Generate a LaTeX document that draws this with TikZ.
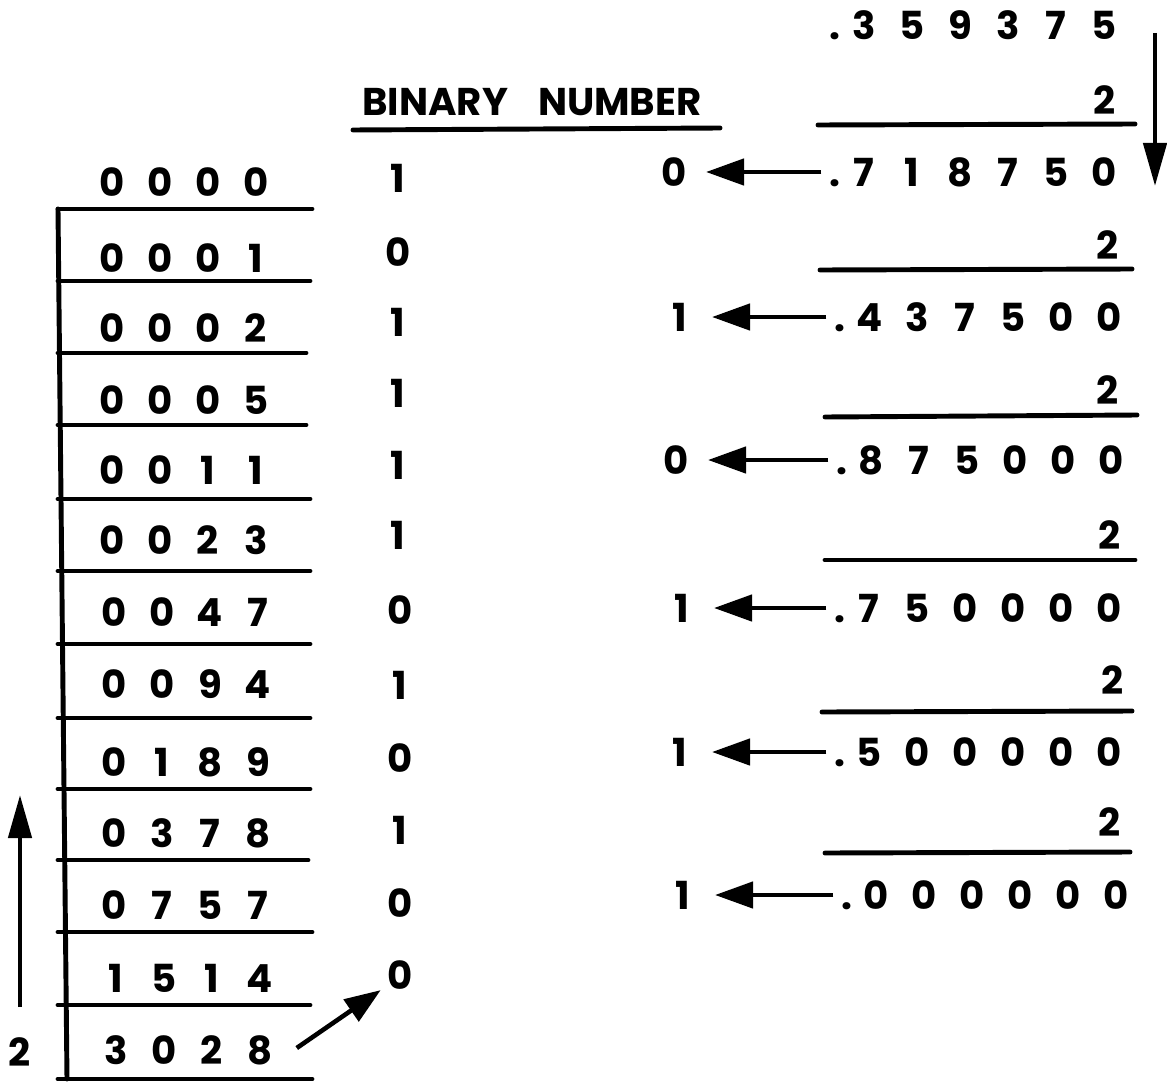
\documentclass[tikz,border=0pt]{standalone}
\usepackage{fontspec}
\setmainfont{Poppins}
\usetikzlibrary{arrows.meta,calc}
\newcommand\Dg[1]{\makebox[4.8mm]{#1}}
\newcommand\Dt{\makebox[2.6mm][r]{.}}
\newcommand\Row[4]{\Dg{#1}\Dg{#2}\Dg{#3}\Dg{#4}}
\newcommand\Six[6]{\Dt\Dg{#1}\Dg{#2}\Dg{#3}\Dg{#4}\Dg{#5}\Dg{#6}}
\begin{document}
\begin{tikzpicture}[x=0.01cm,y=-0.01cm,
  txt/.style={inner sep=0pt,font=\fontsize{11}{13}\selectfont\bfseries},
  rule/.style={line width=1.4pt,line cap=round},
  larr/.style={line width=1.3pt,-{Triangle[length=3.8mm,width=2.6mm]}},
  varr/.style={line width=1.3pt,-{Triangle[length=4.3mm,width=2.3mm]}},
  darr/.style={line width=1.3pt,-{Triangle[length=3.6mm,width=2.6mm]}},
]
\useasboundingbox (0,0) rectangle (1167,1082);

% ---- left table ----
\node[txt] (r1)  at (184,182)  {\Row0000};
\node[txt] (r2)  at (184,258)  {\Row0001};
\node[txt] (r3)  at (184,328)  {\Row0002};
\node[txt] (r4)  at (184,400)  {\Row0005};
\node[txt] (r5)  at (184,470)  {\Row0011};
\node[txt] (r6)  at (184,540)  {\Row0023};
\node[txt] (r7)  at (186,612)  {\Row0047};
\node[txt] (r8)  at (186,684)  {\Row0094};
\node[txt] (r9)  at (186,762)  {\Row0189};
\node[txt] (r10) at (186,833)  {\Row0378};
\node[txt] (r11) at (186,905)  {\Row0757};
\node[txt] (r12) at (188,978)  {\Row1514};
\node[txt] (r13) at (188,1050) {\Row3028};

\draw[rule] (58,209) -- (67,1079);
\foreach \y/\r in {209/312,281/310,353/306,425/306,499/310,571/310,644/310,718/310,789/310,860/308,932/312,1005/310,1079/312}
  \draw[rule] (58,\y) -- (\r,\y);

% ---- binary column ----
\node[txt] (hdr) at (532,102) {BINARY\hspace{3mm}NUMBER};
\draw[rule] (353,130) -- (720,128);
\node[txt] (b1)  at (398,178) {1};
\node[txt] (b2)  at (398,252) {0};
\node[txt] (b3)  at (398,322) {1};
\node[txt] (b4)  at (398,393) {1};
\node[txt] (b5)  at (398,465) {1};
\node[txt] (b6)  at (398,535) {1};
\node[txt] (b7)  at (400,610) {0};
\node[txt] (b8)  at (400,685) {1};
\node[txt] (b9)  at (400,758) {0};
\node[txt] (b10) at (400,830) {1};
\node[txt] (b11) at (400,903) {0};
\node[txt] (b12) at (400,975) {0};

% ---- left arrow and multiplier ----
\node[txt] (two) at (20,1052) {2};
\coordinate (la0) at (20,1007);
\coordinate (la1) at (20,795);
\draw[varr] (la0) -- (la1);
\draw[darr] ($(r13.east)+(12,-2)$) -- ($(b12.south west)+(-6,0)$);

% ---- right side: fraction ----
\node[txt,anchor=east] (m0) at (1129,25)  {\Six359375};
\node[txt] (k1) at (1105,100) {2};
\draw[rule] (818,125) -- (1135,124);
\node[txt,anchor=east] (m1) at (1129,172) {\Six718750};
\node[txt] (k2) at (1108,245) {2};
\draw[rule] (820,270) -- (1132,269);
\node[txt,anchor=east] (m2) at (1134,317) {\Six437500};
\node[txt] (k3) at (1108,390) {2};
\draw[rule] (825,417) -- (1137,415);
\node[txt,anchor=east] (m3) at (1136,460) {\Six875000};
\node[txt] (k4) at (1110,535) {2};
\draw[rule] (825,560) -- (1135,560);
\node[txt,anchor=east] (m4) at (1134,608) {\Six750000};
\node[txt] (k5) at (1113,680) {2};
\draw[rule] (822,712) -- (1132,711);
\node[txt,anchor=east] (m5) at (1134,752) {\Six500000};
\node[txt] (k6) at (1110,822) {2};
\draw[rule] (825,853) -- (1130,852);
\node[txt,anchor=east] (m6) at (1141,895) {\Six000000};

\coordinate (ra0) at (1155,33);
\coordinate (ra1) at (1155,186);
\draw[varr] (ra0) -- (ra1);

\node[txt] (o1) at (674,172) {0};
\node[txt] (o2) at (680,317) {1};
\node[txt] (o3) at (676,460) {0};
\node[txt] (o4) at (682,608) {1};
\node[txt] (o5) at (680,752) {1};
\node[txt] (o6) at (683,895) {1};
\foreach \i in {1,...,6}
  \draw[larr] ($(m\i.west)+(8,0)$) -- ($(o\i)+(32,0)$);
\end{tikzpicture}
\end{document}
